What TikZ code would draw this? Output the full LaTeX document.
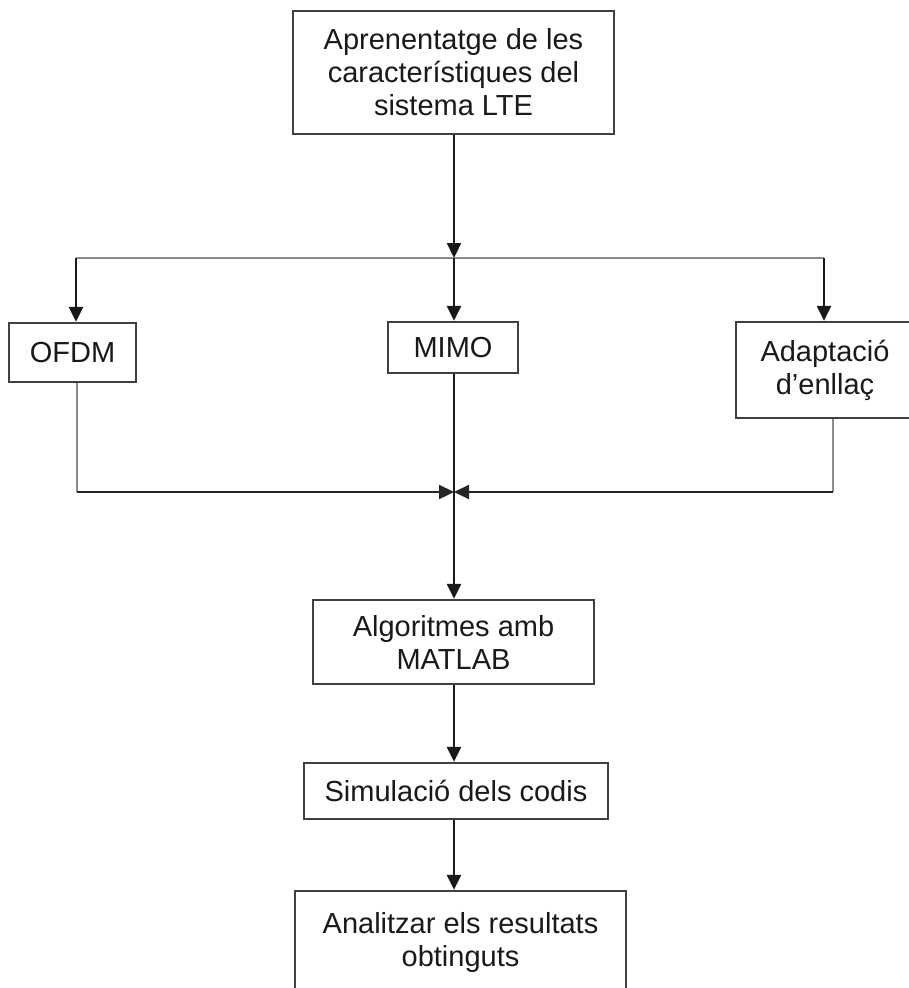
\documentclass[tikz,border=0pt]{standalone}
\usepackage{fontspec}
\setmainfont{Liberation Sans}
\usetikzlibrary{arrows.meta}
\begin{document}
\begin{tikzpicture}[x=1pt,y=-1pt,
  box/.style={draw=black!75, line width=2.3pt, inner sep=0pt, align=center,
    font=\fontsize{29}{33}\selectfont, text=black!90},
  flow/.style={draw=black!90, line width=2.3pt, -{Triangle[width=14pt,length=15pt]}},
  feed/.style={draw=black!45, line width=2pt},
  mergeline/.style={draw=black!85, line width=2.3pt, -{Triangle[width=14pt,length=15pt]}}]
\useasboundingbox (0,0) rectangle (909,988);
\clip (0,0) rectangle (909,988);

% boxes
\node[box, minimum width=321pt, minimum height=123pt] (lte) at (453.5,72.5)
  {Aprenentatge de les\\característiques del\\sistema LTE};
\node[box, minimum width=127pt, minimum height=59pt] (ofdm) at (72.5,352.5) {OFDM};
\node[box, minimum width=130pt, minimum height=51pt] (mimo) at (453,347.5) {MIMO};
\node[box, minimum width=178pt, minimum height=96pt] (adapt) at (825,370) {Adaptació\\d’enllaç};
\node[box, minimum width=281pt, minimum height=84pt] (alg) at (453.5,642) {Algoritmes amb\\MATLAB};
\node[box, minimum width=304pt, minimum height=56pt] (sim) at (456,791) {Simulació dels codis};
\node[box, minimum width=331pt, minimum height=102pt] (anal) at (460.5,942) {Analitzar els resultats\\obtinguts};

% branching and merging points
\coordinate (split) at (454,258);
\coordinate (merge) at (454,492);
\coordinate (splitL) at (76,258);
\coordinate (splitR) at (824,258);
\coordinate (mergeL) at (77,492);
\coordinate (mergeR) at (833,492);

% top: fan out to the three topics
\draw[flow] (lte.south -| split) -- (split);
\draw[feed] (splitL) -- (splitR);
\draw[flow] (splitL) -- (splitL |- ofdm.north);
\draw[flow] (split) -- (split |- mimo.north);
\draw[flow] (splitR) -- (splitR |- adapt.north);

% collect the three topics again
\draw[feed] (mergeL |- ofdm.south) -- (mergeL);
\draw[feed] (mergeR |- adapt.south) -- (mergeR);
\draw[mergeline] (mergeL) -- (merge);
\draw[mergeline] (mergeR) -- (merge);
\draw[flow] (mimo.south -| merge) -- (merge |- alg.north);

% lower chain
\draw[flow] (alg.south -| merge) -- (merge |- sim.north);
\draw[flow] (sim.south -| merge) -- (merge |- anal.north);
\end{tikzpicture}
\end{document}
